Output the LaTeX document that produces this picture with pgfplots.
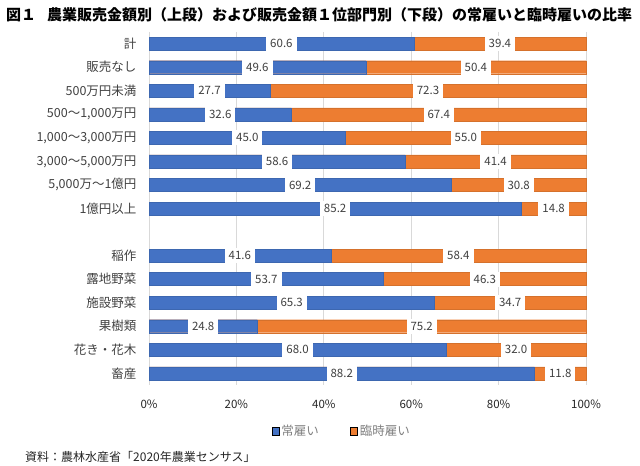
\documentclass[border=0pt]{standalone}
\usepackage{fontspec}
\setmainfont{Noto Sans CJK JP}
\usepackage{pgfplots}
\usepackage{pgfplotstable}
\pgfplotsset{compat=1.18}
\definecolor{cblue}{HTML}{4472C4}
\definecolor{corange}{HTML}{ED7D31}
\definecolor{gridc}{HTML}{D9D9D9}
\definecolor{txt}{HTML}{404040}
\definecolor{legc}{HTML}{808080}

\pgfplotstableread{
y a b
0 60.6 39.4
1 49.6 50.4
2 27.7 72.3
3 32.6 67.4
4 45.0 55.0
5 58.6 41.4
6 69.2 30.8
7 85.2 14.8
9 41.6 58.4
10 53.7 46.3
11 65.3 34.7
12 24.8 75.2
13 68.0 32.0
14 88.2 11.8
}\data

\begin{document}
\begin{tikzpicture}
\useasboundingbox (0,0) rectangle (640bp,466bp);
\begin{axis}[
  at={(149bp,80.9bp)}, anchor=south west,
  scale only axis, width=437bp, height=353.2bp,
  xmin=0, xmax=100, ymin=-0.5, ymax=14.5, y dir=reverse,
  axis line style={draw=none}, tick style={draw=none},
  xmajorgrids, major grid style={draw=gridc, line width=0.75bp},
  xtick={0,20,40,60,80,100},
  xticklabels={0\%,20\%,40\%,60\%,80\%,100\%},
  xticklabel style={font=\fontsize{11.5bp}{13bp}\selectfont, text=black!85, yshift=-11bp},
  ytick={0,1,2,3,4,5,6,7,9,10,11,12,13,14},
  yticklabels={計,販売なし,500万円未満,{500～1,000万円},{1,000～3,000万円},{3,000～5,000万円},{5,000万～1億円},1億円以上,稲作,露地野菜,施設野菜,果樹類,花き・花木,畜産},
  yticklabel style={font=\fontsize{12.5bp}{14bp}\selectfont, text=txt, xshift=-9bp},
  legend style={at={(axis description cs:0.441,-0.131)}, anchor=center, draw=none, fill=none,
    font=\fontsize{12.5bp}{14bp}\selectfont, text=legc,
    /tikz/every even column/.append style={column sep=29bp}},
  legend columns=2,
  legend image code/.code={\fill[#1] (0bp,-3.8bp) rectangle (7.5bp,3.8bp);},
  clip=false,
  nodes near coords align=center,
]
\addplot[xbar, bar shift=0pt, bar width=13bp, fill=corange, draw=corange!90!black, line width=0.4bp, forget plot]
  table[x expr=\thisrow{a}+\thisrow{b}, y=y] {\data};
\addplot[xbar, bar shift=0pt, bar width=13bp, fill=cblue, draw=cblue!90!black, line width=0.4bp, forget plot]
  table[x=a, y=y] {\data};
\addplot[draw=none, mark=none, forget plot, nodes near coords, point meta=explicit symbolic,
  every node near coord/.style={anchor=center, fill=white, inner xsep=4bp, inner ysep=0pt, minimum height=15bp,
    font=\fontsize{11.5bp}{13bp}\selectfont, text=txt}]
  table[x expr=\thisrow{a}/2, y=y, meta=a] {\data};
\addplot[draw=none, mark=none, forget plot, nodes near coords, point meta=explicit symbolic,
  every node near coord/.style={anchor=center, fill=white, inner xsep=4bp, inner ysep=0pt, minimum height=15bp,
    font=\fontsize{11.5bp}{13bp}\selectfont, text=txt}]
  table[x expr=\thisrow{a}+\thisrow{b}/2, y=y, meta=b] {\data};
\addlegendimage{fill=cblue}
\addlegendentry{常雇い}
\addlegendimage{fill=corange}
\addlegendentry{臨時雇い}
\end{axis}
\node[anchor=west, inner sep=0pt, font=\bfseries\fontsize{15bp}{17bp}\selectfont] at (6bp,451bp) {図１};
\node[anchor=west, inner sep=0pt, font=\bfseries\fontsize{15bp}{17bp}\selectfont] at (47bp,451bp) {農業販売金額別（上段）および販売金額１位部門別（下段）の常雇いと臨時雇いの比率};
\node[anchor=west, inner sep=0pt, font=\fontsize{12bp}{14bp}\selectfont, text=black!85] at (25bp,9.3bp) {資料：農林水産省「2020年農業センサス」};
\end{tikzpicture}
\end{document}
